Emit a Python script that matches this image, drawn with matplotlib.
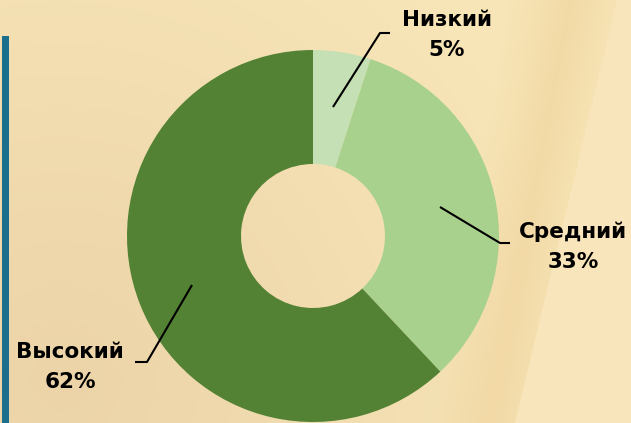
import matplotlib
matplotlib.use("Agg")
import matplotlib.pyplot as plt
import numpy as np
from matplotlib.patches import Polygon, Rectangle

categories = ["Низкий", "Средний", "Высокий"]
values = [5, 33, 62]
colors = ["#c5e0b4", "#a9d18e", "#548235"]

W, H = 631, 423
fig = plt.figure(figsize=(W / 100, H / 100), dpi=100)
ax = fig.add_axes([0, 0, 1, 1])
ax.set_xlim(0, W)
ax.set_ylim(0, H)
ax.axis("off")

# background gradient
yy, xx = np.mgrid[0:H, 0:W]
c1 = np.array([0xf7, 0xe5, 0xb7]) / 255.0  # top light
c2 = np.array([0xec, 0xd4, 0xa8]) / 255.0  # mid beige
d = np.sqrt((xx - 60) ** 2 + (yy - 380) ** 2)
t = np.clip(1 - d / 520.0, 0, 1)[..., None]
img = c1 * (1 - t) + c2 * t
# orange-ish band near right
band = np.clip(1 - np.abs((xx - (600 - (yy) * 0.19)) - (-30)) / 60.0, 0, 1)[..., None]
img = img * (1 - 0.6 * band) + (np.array([0xf0, 0xd3, 0x9c]) / 255.0) * 0.6 * band
ax.imshow(img, extent=[0, W, 0, H], origin="upper", zorder=0, aspect="auto")
# lighter right region
ax.add_patch(Polygon([(515, 0), (W, 0), (W, H), (617, H)], closed=True,
                     facecolor="#f9e5bb", edgecolor="none", zorder=1))

# left blue bar
ax.add_patch(Rectangle((2, 0), 7, H - 36, facecolor="#1b6e8c", edgecolor="none", zorder=2))

cx, cy, R, r = 313, H - 236, 186, 72
ax.pie(values, colors=colors, startangle=90, counterclock=False,
       center=(cx, cy), radius=R, wedgeprops=dict(width=R - r, edgecolor="none"),
       frame=True)
ax.set_xlim(0, W)
ax.set_ylim(0, H)
ax.set_aspect("auto")
ax.axis("off")

fs = 15.5
fkw = dict(fontsize=fs, fontweight="bold", family="DejaVu Sans", ha="center", va="center", color="black", zorder=5)
labels = [(447, 20, 50), (573, 232, 262), (70, 352, 382)]
for (lx, ly1, ly2), cat, v in zip(labels, categories, values):
    ax.text(lx, H - ly1, cat, **fkw)
    ax.text(lx, H - ly2, f"{v}%", **fkw)

lines = [
    [(333, 107), (380, 33), (390, 33)],
    [(440, 207), (500, 243), (510, 243)],
    [(192, 285), (147, 362), (135, 362)],
]
for pts in lines:
    xs = [p[0] for p in pts]
    ys = [H - p[1] for p in pts]
    ax.plot(xs, ys, color="black", lw=1.5, zorder=4, solid_capstyle="butt")

fig.savefig("out.png", dpi=100)
